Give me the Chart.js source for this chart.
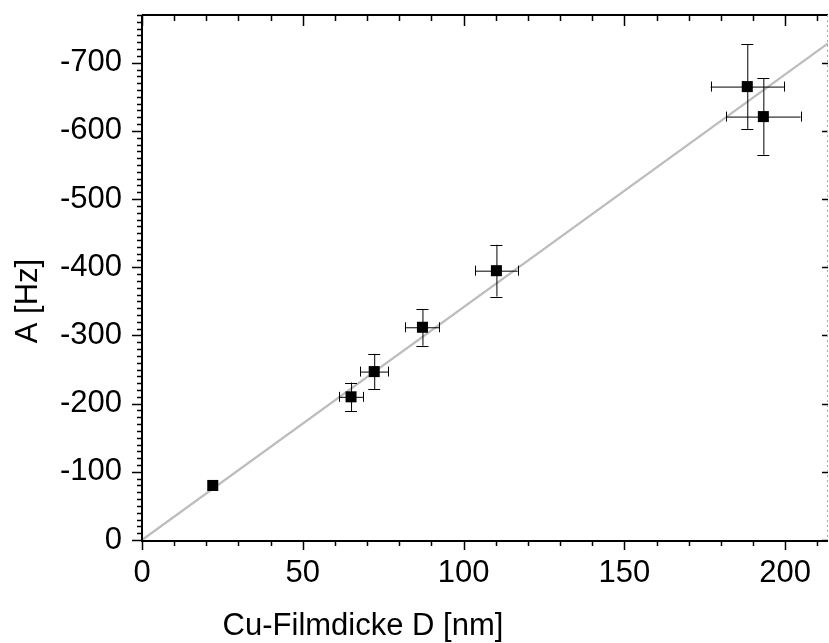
<!DOCTYPE html>
<html>
<head>
<meta charset="utf-8">
<script src="https://cdn.jsdelivr.net/npm/chart.js@4/dist/chart.umd.min.js"></script>
<style>
  html, body { margin: 0; padding: 0; background: #fff; }
  #wrap { width: 829px; height: 643px; }
</style>
</head>
<body>
<div id="wrap"><canvas id="chart" width="829" height="643"></canvas></div>
<script>
const filmDicke = [22, 65, 72.2, 87.2, 110.2, 188.2, 193.2];
const ampl      = [-80, -210, -247, -312, -395, -665, -621];
const xErr      = [0, 3.8, 4.3, 5.3, 6.6, 11.4, 11.6];
const yErr      = [0, 21, 26, 27, 38, 62, 56];

// lineare Anpassung
const fitX = [0, 213.3];
const fitY = [0, -728.4];

const xTicks = [0, 50, 100, 150, 200];
const yTicks = [0, -100, -200, -300, -400, -500, -600, -700];

const FONT = "'Liberation Sans', Arial, sans-serif";

// Fehlerbalken, Achsenrahmen, Striche und Achsentitel
const frame = {
    id: 'frame',
    afterDatasetDraw(chart, args) {
        if (args.index !== 0) return;
        const ctx = chart.ctx, xs = chart.scales.x, ys = chart.scales.y;
        ctx.save();
        ctx.strokeStyle = '#000';
        ctx.lineWidth = 1;
        const cap = 6;
        filmDicke.forEach((xv, i) => {
            const px = xs.getPixelForValue(xv), py = ys.getPixelForValue(ampl[i]);
            if (yErr[i] > 0) {
                const y1 = ys.getPixelForValue(ampl[i] - yErr[i]);
                const y2 = ys.getPixelForValue(ampl[i] + yErr[i]);
                ctx.beginPath();
                ctx.moveTo(px + 0.5, y1); ctx.lineTo(px + 0.5, y2);
                ctx.moveTo(px - cap, Math.round(y1) + 0.5); ctx.lineTo(px + cap, Math.round(y1) + 0.5);
                ctx.moveTo(px - cap, Math.round(y2) + 0.5); ctx.lineTo(px + cap, Math.round(y2) + 0.5);
                ctx.stroke();
            }
            if (xErr[i] > 0) {
                const x1 = xs.getPixelForValue(xv - xErr[i]);
                const x2 = xs.getPixelForValue(xv + xErr[i]);
                ctx.beginPath();
                ctx.moveTo(x1, py + 0.5); ctx.lineTo(x2, py + 0.5);
                ctx.moveTo(Math.round(x1) + 0.5, py - 5); ctx.lineTo(Math.round(x1) + 0.5, py + 5);
                ctx.moveTo(Math.round(x2) + 0.5, py - 5); ctx.lineTo(Math.round(x2) + 0.5, py + 5);
                ctx.stroke();
            }
        });
        ctx.restore();
    },
    afterDraw(chart) {
        const ctx = chart.ctx, a = chart.chartArea;
        const xs = chart.scales.x, ys = chart.scales.y;
        ctx.save();
        ctx.strokeStyle = '#000';
        ctx.lineWidth = 1.5;
        // Striche
        ctx.beginPath();
        for (let v = 0; v <= xs.max; v += 10) {
            const p = Math.round(xs.getPixelForValue(v)) + 0.5;
            const major = v % 50 === 0;
            ctx.moveTo(p, a.bottom); ctx.lineTo(p, a.bottom + (major ? 10 : 6));
            ctx.moveTo(p, a.top); ctx.lineTo(p, a.top + (major ? 11 : 6));
        }
        for (let v = 0; v >= ys.min; v -= 10) {
            const p = Math.round(ys.getPixelForValue(v)) + 0.5;
            const major = v % 100 === 0;
            ctx.moveTo(a.left, p); ctx.lineTo(a.left - (major ? 10 : 5), p);
            if (major) { ctx.moveTo(a.right, p); ctx.lineTo(a.right - 6, p); }
        }
        ctx.stroke();
        // Achsenlinien
        ctx.lineWidth = 2;
        ctx.beginPath();
        ctx.moveTo(a.left, a.top); ctx.lineTo(a.left, a.bottom + 1);
        ctx.lineTo(a.right, a.bottom + 1);
        ctx.moveTo(a.left, a.top); ctx.lineTo(a.right, a.top);
        ctx.stroke();
        ctx.strokeStyle = '#aaa';
        ctx.lineWidth = 1;
        ctx.setLineDash([2, 3]);
        ctx.beginPath();
        ctx.moveTo(a.right - 0.5, a.top); ctx.lineTo(a.right - 0.5, a.bottom);
        ctx.stroke();
        ctx.setLineDash([]);
        // Achsentitel
        ctx.fillStyle = '#000';
        ctx.font = '31px ' + FONT;
        ctx.textAlign = 'center';
        ctx.textBaseline = 'middle';
        ctx.fillText('Cu-Filmdicke D [nm]', 363, 626);
        ctx.translate(28, 301);
        ctx.rotate(-Math.PI / 2);
        ctx.fillText('A [Hz]', 0, 0);
        ctx.restore();
    }
};

new Chart(document.getElementById('chart'), {
    type: 'scatter',
    data: {
        datasets: [
            {
                type: 'line',
                data: fitX.map((x, i) => ({ x: x, y: fitY[i] })),
                borderColor: '#bdbdbd',
                borderWidth: 2.3,
                pointRadius: 0,
                fill: false,
                order: 2
            },
            {
                data: filmDicke.map((x, i) => ({ x: x, y: ampl[i] })),
                pointStyle: 'rect',
                pointRadius: 7.8,
                backgroundColor: '#000',
                borderColor: '#000',
                borderWidth: 0,
                order: 1
            }
        ]
    },
    options: {
        responsive: false,
        animation: false,
        layout: { autoPadding: false, padding: { top: 15, right: 1, left: 0, bottom: 0 } },
        plugins: { legend: { display: false }, tooltip: { enabled: false } },
        scales: {
            x: {
                type: 'linear',
                min: 0,
                max: 213.3,
                grid: { display: false },
                border: { display: false },
                afterBuildTicks: s => { s.ticks = xTicks.map(v => ({ value: v })); },
                afterFit: s => {
                    s.height = 103;
                    s.paddingLeft = 0; s.paddingRight = 0;
                },
                ticks: {
                    padding: 7,
                    color: '#000',
                    font: { family: FONT, size: 31 },
                    callback: v => String(v)
                }
            },
            y: {
                type: 'linear',
                min: -770,
                max: 0,
                reverse: true,
                grid: { display: false },
                border: { display: false },
                afterBuildTicks: s => { s.ticks = yTicks.map(v => ({ value: v })); },
                afterFit: s => {
                    s.width = 142;
                    s.paddingTop = 0; s.paddingBottom = 0;
                },
                ticks: {
                    padding: 12,
                    color: '#000',
                    font: { family: FONT, size: 31 },
                    callback: v => String(v)
                }
            }
        }
    },
    plugins: [frame]
});
</script>
</body>
</html>
